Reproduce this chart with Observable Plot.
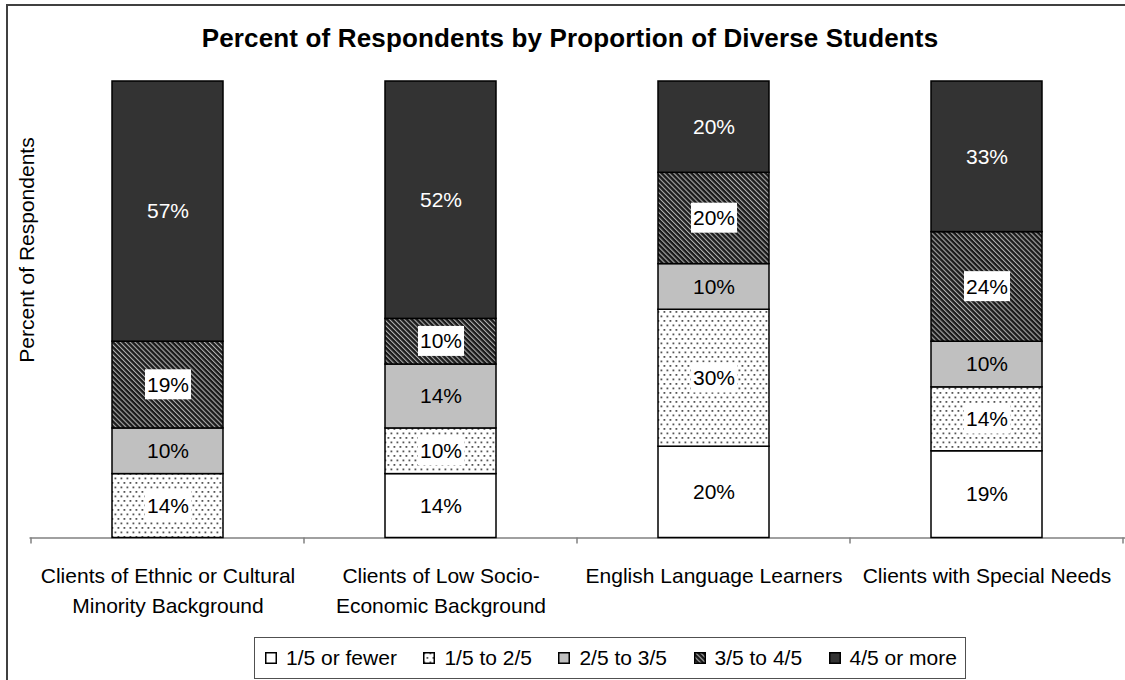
<!DOCTYPE html>
<html>
<head>
<meta charset="utf-8">
<script src="https://cdn.jsdelivr.net/npm/d3@7"></script>
<script src="https://cdn.jsdelivr.net/npm/@observablehq/plot@0.6"></script>
<style>
  body { margin: 0; background: #fff; font-family: "Liberation Sans", Arial, sans-serif; }
  #chart { position: relative; width: 1125px; height: 680px; overflow: hidden; background: #fff; }
  #plot { position: absolute; left: 0; top: 0; }
  #frame { position: absolute; left: 6px; top: 4px; width: 1300px; height: 900px;
           border-left: 2px solid #404040; border-top: 2px solid #404040; pointer-events: none; }
  #title { position: absolute; left: 0; top: 25px; width: 1140px; text-align: center;
           font-weight: bold; font-size: 26px; line-height: 26px; letter-spacing: 0.15px; color: #000; }
  #ylabel { position: absolute; left: -123px; top: 238px; width: 300px; height: 24px; line-height: 24px;
            text-align: center; font-size: 21px; color: #000; transform: rotate(-90deg); }
  #legend { position: absolute; left: 254px; top: 637px; width: 712px; height: 42px; box-sizing: border-box;
            border: 1.5px solid #505050; display: flex; align-items: center; justify-content: space-between;
            padding: 0 8px 0 10px; font-size: 21px; color: #000; background: #fff; }
  #legend .item { display: flex; align-items: center; white-space: pre; }
  #legend svg { margin-right: 9px; }
</style>
</head>
<body>
<div id="chart">
  <svg width="0" height="0" style="position:absolute">
    <defs>
      <pattern id="dots" width="6" height="9" patternUnits="userSpaceOnUse">
        <rect width="6" height="9" fill="#ffffff"></rect>
        <rect x="0.5" y="0.5" width="1.8" height="1.8" fill="#555555"></rect>
        <rect x="3.5" y="5" width="1.8" height="1.8" fill="#555555"></rect>
      </pattern>
      <pattern id="diag" width="3.5" height="3.5" patternUnits="userSpaceOnUse" patternTransform="rotate(-45)">
        <rect width="3.5" height="3.5" fill="#1a1a1a"></rect>
        <rect width="1.1" height="3.5" fill="#b0b0b0"></rect>
      </pattern>
    </defs>
  </svg>
  <div id="plot"></div>
  <div id="title">Percent of Respondents by Proportion of Diverse Students</div>
  <div id="ylabel">Percent of Respondents</div>
  <div id="legend"></div>
  <div id="frame"></div>
</div>
<script>
// ---- data ----
const categories = [
  "Clients of Ethnic or Cultural\nMinority Background",
  "Clients of Low Socio-\nEconomic Background",
  "English Language Learners",
  "Clients with Special Needs"
];
const series = ["1/5 or fewer", "1/5 to 2/5", "2/5 to 3/5", "3/5 to 4/5", "4/5 or more"];
const fewer       = [0, 14, 20, 19];
const oneToTwo    = [14, 10, 30, 14];
const twoToThree  = [10, 14, 10, 10];
const threeToFour = [19, 10, 20, 24];
const fourOrMore  = [57, 52, 20, 33];

// ---- styles ----
const seriesFills = ["#ffffff", "url(#dots)", "#c0c0c0", "url(#diag)", "#333333"];
const labelKind = ["plain", "boxed", "plain", "boxed", "dark"];

const values = [fewer, oneToTwo, twoToThree, threeToFour, fourOrMore];
const rows = [];
categories.forEach((c, i) => {
  let acc = 0;
  series.forEach((s, j) => {
    const v = values[j][i];
    rows.push({category: c, series: s, kind: labelKind[j], value: v, y1: acc, y2: acc + v});
    acc += v;
  });
});
const shown = rows.filter(d => d.value > 0);
const mid = d => (d.y1 + d.y2) / 2;
const pct = d => d.value + "%";

const font = '"Liberation Sans", Arial, sans-serif';
const plot = Plot.plot({
  width: 1125,
  height: 620,
  marginLeft: 29.5,
  marginRight: 0,
  marginTop: 81,
  marginBottom: 82.5,
  style: {fontFamily: font, fontSize: "21px", background: "transparent", color: "black"},
  x: {type: "band", domain: categories, paddingInner: 0.595, paddingOuter: 0.2975, label: null},
  y: {domain: [0, 100], axis: null},
  color: {type: "ordinal", domain: series, range: seriesFills},
  marks: [
    Plot.ruleY([0], {stroke: "#808080", strokeWidth: 1.5}),
    Plot.axisX({tickSize: 0, tickPadding: 24.5, lineHeight: 1.4, fill: "black", fontSize: 21}),
    Plot.barY(shown, {x: "category", y1: "y1", y2: "y2", fill: "series", stroke: "black", strokeWidth: 1.5}),
    Plot.text(shown.filter(d => d.kind === "dark"), {x: "category", y: mid, text: pct, fill: "white"}),
    Plot.text(shown.filter(d => d.kind === "plain"), {x: "category", y: mid, text: pct, fill: "black"}),
    Plot.text(shown.filter(d => d.kind === "boxed"), {x: "category", y: mid, text: pct, fill: "black", ariaDescription: "boxed"})
  ]
});
document.getElementById("plot").appendChild(plot);

// boundary ticks on the category axis, from the library's x scale
const xs = plot.scale("x");
const ys = plot.scale("y");
const svg = d3.select(plot.tagName.toLowerCase() === "svg" ? plot : plot.querySelector("svg"));
const start0 = xs.apply(categories[0]) - (xs.step - xs.bandwidth) / 2;
const y0 = ys.apply(0);
const ticksG = svg.append("g");
for (let i = 0; i <= categories.length; i++) {
  const bx = start0 + i * xs.step;
  ticksG.append("line").attr("x1", bx).attr("x2", bx).attr("y1", y0).attr("y2", y0 + 6)
    .attr("stroke", "#808080").attr("stroke-width", 1.5);
}

// white boxes behind the labels on patterned segments
let boxedG = plot.querySelector('g[aria-description="boxed"]');
if (!boxedG) { const gs = plot.querySelectorAll('g[aria-label="text"]'); boxedG = gs[gs.length - 1]; }
if (boxedG) {
  boxedG.querySelectorAll("text").forEach(t => {
    const bb = t.getBBox();
    const r = document.createElementNS("http://www.w3.org/2000/svg", "rect");
    r.setAttribute("x", bb.x - 2);
    r.setAttribute("y", bb.y + bb.height / 2 - 15);
    r.setAttribute("width", bb.width + 4);
    r.setAttribute("height", 30);
    r.setAttribute("fill", "white");
    r.setAttribute("stroke", "none");
    const tr = t.getAttribute("transform");
    if (tr) r.setAttribute("transform", tr);
    t.parentNode.insertBefore(r, t);
  });
}

// legend
const legend = document.getElementById("legend");
series.forEach((s, j) => {
  const item = document.createElement("div");
  item.className = "item";
  item.innerHTML = `<svg width="12" height="12"><rect x="0.75" y="0.75" width="10.5" height="10.5" fill="${seriesFills[j]}" stroke="black" stroke-width="1.5"></rect></svg><span>${s}</span>`;
  legend.appendChild(item);
});
</script>
</body>
</html>
